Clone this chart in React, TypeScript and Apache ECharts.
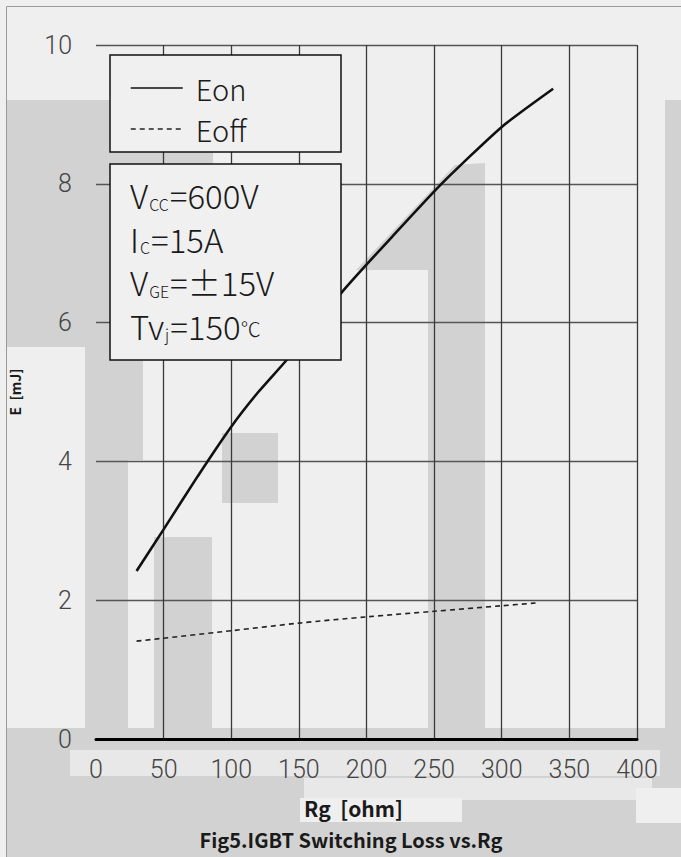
import React, { useEffect, useRef } from "react";
import * as echarts from "echarts";

// Eon curve (Rg in ohm, E in mJ)
const rgOn = [30, 50, 75, 100, 120, 140, 185, 220, 256, 300, 338];
const eOn = [2.42, 3.02, 3.78, 4.5, 5.0, 5.44, 6.51, 7.26, 8.01, 8.82, 9.37];
// Eoff curve
const rgOff = [30, 100, 150, 200, 250, 300, 325];
const eOff = [1.41, 1.56, 1.67, 1.76, 1.84, 1.92, 1.96];

const seriesNames = ["Eon", "Eoff"];
const xTitle = "Rg  [ohm]";
const yTitle = "E  [mJ]";
const caption = "Fig5.IGBT Switching Loss vs.Rg";
const conditions = [
  "{n|V}{s|CC}{n|=600V}",
  "{n|I}{s|C}{n|=15A}",
  "{n|V}{s|GE}{n|=±15V}",
  "{n|Tv}{s|j}{n|=150}{c|℃}",
];

const GRAY = "#d2d2d2";
const LIGHT = "#efefef";

export default function App() {
  const ref = useRef<HTMLDivElement>(null);
  useEffect(() => {
    if (!ref.current) return;
    const chart = echarts.init(ref.current, null, { renderer: "svg" });
    const patch = (x: number, y: number, w: number, h: number, fill = GRAY) => ({
      type: "rect",
      z: -5,
      silent: true,
      shape: { x, y, width: w, height: h },
      style: { fill },
    });
    const cjk = '"Noto Sans CJK SC", "Noto Sans", sans-serif';
    const condTexts = conditions.map((t, i) => ({
      type: "text",
      z: 30,
      style: {
        x: 130,
        y: 195 + i * 43.5,
        text: t,
        verticalAlign: "middle",
        fill: "#1a1a1a",
        rich: {
          n: { fontSize: 33, fontFamily: cjk, fontWeight: 300, fill: "#1a1a1a" },
          s: { fontSize: 16, fontFamily: cjk, fontWeight: 300, fill: "#1a1a1a", padding: [17, 1, 0, 1] },
          c: { fontSize: 20, fontFamily: cjk, fontWeight: 300, fill: "#1a1a1a", padding: [5, 0, 0, 0] },
        },
      },
    }));
    chart.setOption({
      animation: false,
      backgroundColor: LIGHT,
      title: {
        text: caption,
        left: 351,
        top: 828,
        textAlign: "center",
        padding: 0,
        textStyle: { fontSize: 20, lineHeight: 22, fontWeight: "bold", color: "#1a1a1a", fontFamily: cjk },
      },
      legend: {
        data: seriesNames,
        orient: "vertical",
        left: 125,
        top: 68,
        z: 40,
        itemWidth: 52,
        itemHeight: 14,
        itemGap: 11,
        itemStyle: { opacity: 0 },
        lineStyle: { width: 1.5 },
        textStyle: {
          fontSize: 29,
          lineHeight: 30,
          color: "#1a1a1a",
          fontWeight: 300,
          fontFamily: cjk,
          padding: [0, 0, 0, 8],
        },
      },
      grid: { left: 90, right: 44, top: 45, bottom: 118 },
      xAxis: {
        type: "value",
        min: 0,
        max: 400,
        interval: 50,
        name: xTitle,
        nameLocation: "middle",
        nameGap: 57,
        nameTextStyle: {
          fontSize: 21,
          lineHeight: 24,
          fontWeight: "bold",
          color: "#1a1a1a",
          fontFamily: cjk,
          padding: [0, 26, 0, 0],
        },
        axisLine: { show: true, lineStyle: { color: "#000", width: 3 } },
        axisTick: { show: false },
        axisLabel: {
          margin: 18,
          fontSize: 25,
          color: "#444",
          fontWeight: 300,
          fontFamily: "Roboto, 'Liberation Sans', sans-serif",
        },
        splitLine: { show: true, showMinLine: false, lineStyle: { color: "#3a3a3a", width: 1.3 } },
      },
      yAxis: {
        type: "value",
        min: 0,
        max: 10,
        interval: 2,
        name: yTitle,
        nameLocation: "middle",
        nameRotate: 90,
        nameGap: 74,
        nameTextStyle: { fontSize: 14, fontWeight: "bold", color: "#1a1a1a", fontFamily: cjk },
        axisLine: { show: false },
        axisTick: { show: false },
        axisLabel: {
          margin: 24,
          fontSize: 25,
          color: "#444",
          fontWeight: 300,
          fontFamily: "Roboto, 'Liberation Sans', sans-serif",
        },
        splitLine: { show: true, lineStyle: { color: "#555", width: 1.3 } },
      },
      graphic: [
        // scan-like background patches
        patch(6, 100, 137, 247),
        patch(110, 100, 103, 64),
        patch(85, 345, 43, 385),
        patch(128, 345, 15, 115),
        patch(154, 537, 58, 193),
        patch(222, 433, 56, 70),
        {
          type: "polygon",
          z: -5,
          silent: true,
          shape: { points: [[356, 270], [455, 165], [485, 163], [485, 730], [428, 730], [428, 270]] },
          style: { fill: GRAY },
        },
        patch(665, 100, 16, 630),
        patch(6, 728, 675, 129),
        patch(70, 750, 590, 26, "#e8e8e8"),
        patch(304, 778, 348, 22, "#e8e8e8"),
        patch(300, 798, 162, 24, LIGHT),
        patch(636, 788, 45, 35, LIGHT),
        // frame
        {
          type: "rect",
          z: -4,
          silent: true,
          shape: { x: 6.5, y: 6.5, width: 700, height: 900 },
          style: { fill: "none", stroke: "#9a9a9a", lineWidth: 1 },
        },
        // legend box
        {
          type: "rect",
          z: 20,
          shape: { x: 110, y: 55, width: 231, height: 97 },
          style: { fill: "#f0f0f0", stroke: "#111", lineWidth: 1.5 },
        },
        // conditions box
        {
          type: "rect",
          z: 20,
          shape: { x: 110, y: 164, width: 231, height: 196 },
          style: { fill: "#f0f0f0", stroke: "#111", lineWidth: 1.5 },
        },
        ...condTexts,
      ],
      series: [
        {
          name: seriesNames[0],
          type: "line",
          data: rgOn.map((x, i) => [x, eOn[i]]),
          smooth: 0.2,
          symbol: "none",
          lineStyle: { color: "#111", width: 2.6, type: "solid" },
          itemStyle: { color: "#111" },
          z: 5,
        },
        {
          name: seriesNames[1],
          type: "line",
          data: rgOff.map((x, i) => [x, eOff[i]]),
          smooth: 0.3,
          symbol: "none",
          lineStyle: { color: "#222", width: 1.6, type: [5, 4] },
          itemStyle: { color: "#222" },
          z: 5,
        },
      ],
    });
    return () => chart.dispose();
  }, []);
  return (
    <div ref={ref} style={{ position: "fixed", left: 0, top: 0, width: 681, height: 857 }} />
  );
}
